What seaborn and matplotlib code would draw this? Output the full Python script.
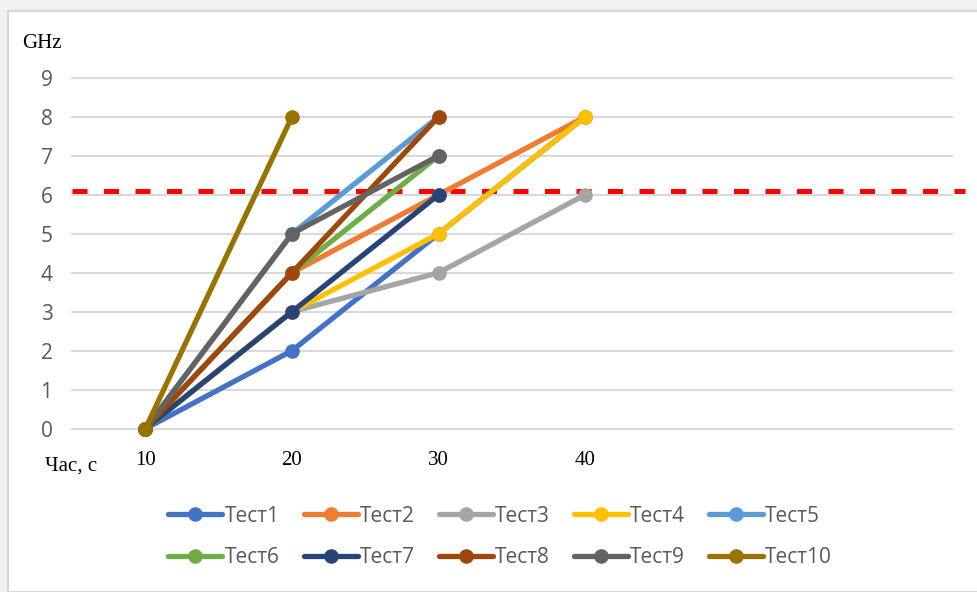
import numpy as np
import pandas as pd
import matplotlib
matplotlib.use("Agg")
import matplotlib.pyplot as plt
import seaborn as sns
from matplotlib.patches import Rectangle
from matplotlib.lines import Line2D

# time points (s) and GHz readings per test
times = [10, 20, 30, 40]
test1 = [0, 2, 5, 8]
test2 = [0, 4, 6, 8]
test3 = [0, 3, 4, 6]
test4 = [0, 3, 5, 8]
test5 = [0, 5, 8]
test6 = [0, 4, 7]
test7 = [0, 3, 6]
test8 = [0, 4, 8]
test9 = [0, 5, 7]
test10 = [0, 8]
threshold = 6.1

names = ["Тест1", "Тест2", "Тест3", "Тест4", "Тест5",
         "Тест6", "Тест7", "Тест8", "Тест9", "Тест10"]
series = [test1, test2, test3, test4, test5, test6, test7, test8, test9, test10]
colors = ["#4472C4", "#ED7D31", "#A5A5A5", "#FFC000", "#5B9BD5",
          "#70AD47", "#264478", "#9E480E", "#636363", "#997300"]

rows = []
for name, vals in zip(names, series):
    for t, v in zip(times, vals):
        rows.append({"test": name, "time": t, "ghz": v})
df = pd.DataFrame(rows)

sns.set_style("white")
sans = ["Open Sans", "DejaVu Sans"]
serif = ["Liberation Serif", "DejaVu Serif"]

fig = plt.figure(figsize=(9.77, 5.92), dpi=100)
fig.patch.set_facecolor("#f2f2f2")
fig.patches.append(Rectangle((8 / 977, 0), 1, 1 - 11 / 592, transform=fig.transFigure,
                             facecolor="white", edgecolor="#d6d6d6", linewidth=1.5, zorder=-5))

ax = fig.add_axes([72 / 977, 1 - 428.7 / 592, 880 / 977, 351 / 592])
ax.set_zorder(2)
ax.set_facecolor("none")

for y in range(0, 10):
    ax.axhline(y, color="#d9d9d9", lw=1.5, zorder=1)

ax.axhline(threshold, xmin=0, xmax=1.015, color="#ff0000", lw=3.6,
           dashes=(3, 3.3), zorder=2, clip_on=False)

sns.lineplot(data=df, x="time", y="ghz", hue="test", hue_order=names, palette=colors,
             marker="o", markersize=10.5, markeredgewidth=0, linewidth=3.8,
             legend=False, ax=ax, zorder=3)
for line in ax.get_lines():
    line.set_clip_on(False)

ax.set_xlim(5, 65)
ax.set_ylim(0, 9)
ax.set_xticks(times)
ax.set_xticklabels([str(t) for t in times], family=serif, fontsize=15, color="black")
ax.set_yticks(range(0, 10))
ax.set_yticklabels([str(i) for i in range(0, 10)], family=sans, fontsize=15, color="#595959")
ax.tick_params(axis="x", length=0, pad=16)
ax.tick_params(axis="y", length=0, pad=14)
ax.set_xlabel("")
ax.set_ylabel("")
for s in ax.spines.values():
    s.set_visible(False)

fig.text(22 / 977, 1 - 43 / 592, "GHz", family=serif, fontsize=15, color="black",
         ha="left", va="center")
fig.text(45 / 977, 1 - 466 / 592, "Час, с", family=serif, fontsize=15, color="black",
         ha="left", va="center")

# legend fills column by column, so interleave the two rows
order = [0, 5, 1, 6, 2, 7, 3, 8, 4, 9]
handles = [Line2D([], [], color=colors[i], lw=3.8, marker="o", markersize=10.5,
                  markeredgewidth=0) for i in order]
labels = [names[i] for i in order]
fig.legend(handles, labels, loc="center", bbox_to_anchor=(0.512, 1 - 537 / 592), ncol=5,
           frameon=False, prop={"family": sans, "size": 15}, labelcolor="#595959",
           handlelength=2.6, handletextpad=0.1, columnspacing=1.15, labelspacing=1.0)

fig.savefig("out.png", dpi=100, facecolor=fig.get_facecolor())
